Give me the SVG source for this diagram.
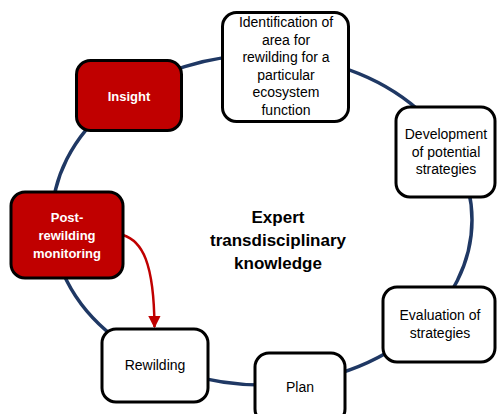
<svg xmlns="http://www.w3.org/2000/svg" width="497" height="414" viewBox="0 0 497 414">
  <style>
    .ring { fill: none; stroke: #1F3864; stroke-width: 3.5; }
    .box { fill: #FFFFFF; stroke: #000000; stroke-width: 3; }
    .box-red { fill: #C00000; stroke: #000000; stroke-width: 3; }
    .lbl { font-family: "Liberation Sans", Arial, sans-serif; font-size: 14px; fill: #000000; text-anchor: middle; }
    .lbl-red { font-family: "Liberation Sans", Arial, sans-serif; font-size: 13px; font-weight: bold; fill: #FFFFFF; text-anchor: middle; }
    .center { font-family: "Liberation Sans", Arial, sans-serif; font-size: 17px; font-weight: bold; fill: #000000; text-anchor: middle; }
    .feedback { fill: none; stroke: #C00000; stroke-width: 2.5; }
  </style>
  <defs>
    <marker id="arrowRed" viewBox="0 0 10 10" refX="9" refY="5" markerWidth="5" markerHeight="5" orient="auto" markerUnits="strokeWidth">
      <path d="M0,0 L10,5 L0,10 Z" fill="#C00000"/>
    </marker>
  </defs>

  <!-- cycle ring and feedback arrow -->
  <g id="connectors">
    <ellipse class="ring" cx="262" cy="220" rx="210" ry="165"/>
    <path class="feedback" d="M123,235 C142,241 154,262 154.5,327" marker-end="url(#arrowRed)"/>
  </g>

  <!-- centre caption -->
  <g id="center-label">
    <text class="center" x="278" y="223">Expert</text>
    <text class="center" x="278" y="246">transdisciplinary</text>
    <text class="center" x="278" y="269">knowledge</text>
  </g>

  <g id="identification">
    <rect class="box" x="222.5" y="12.5" width="126" height="109" rx="14"/>
    <text class="lbl" x="286" y="27">Identification of</text>
    <text class="lbl" x="286" y="44.5">area for</text>
    <text class="lbl" x="286" y="62">rewilding for a</text>
    <text class="lbl" x="286" y="79.5">particular</text>
    <text class="lbl" x="286" y="97">ecosystem</text>
    <text class="lbl" x="286" y="114.5">function</text>
  </g>

  <g id="development">
    <rect class="box" x="396" y="107" width="99" height="90" rx="14"/>
    <text class="lbl" x="446" y="139">Development</text>
    <text class="lbl" x="446" y="157">of potential</text>
    <text class="lbl" x="446" y="174">strategies</text>
  </g>

  <g id="evaluation">
    <rect class="box" x="383" y="287" width="112" height="75" rx="14"/>
    <text class="lbl" x="440" y="320">Evaluation of</text>
    <text class="lbl" x="440" y="338">strategies</text>
  </g>

  <g id="plan">
    <rect class="box" x="255" y="353" width="90" height="70" rx="14"/>
    <text class="lbl" x="300" y="392">Plan</text>
  </g>

  <g id="rewilding">
    <rect class="box" x="102" y="329" width="106" height="73" rx="14"/>
    <text class="lbl" x="155" y="370">Rewilding</text>
  </g>

  <g id="post-rewilding-monitoring">
    <rect class="box-red" x="11" y="192" width="112" height="86" rx="14"/>
    <text class="lbl-red" x="67" y="222">Post-</text>
    <text class="lbl-red" x="67" y="240">rewilding</text>
    <text class="lbl-red" x="67" y="258">monitoring</text>
  </g>

  <g id="insight">
    <rect class="box-red" x="76.5" y="60.5" width="105" height="70" rx="14"/>
    <text class="lbl-red" x="129" y="101">Insight</text>
  </g>
</svg>
